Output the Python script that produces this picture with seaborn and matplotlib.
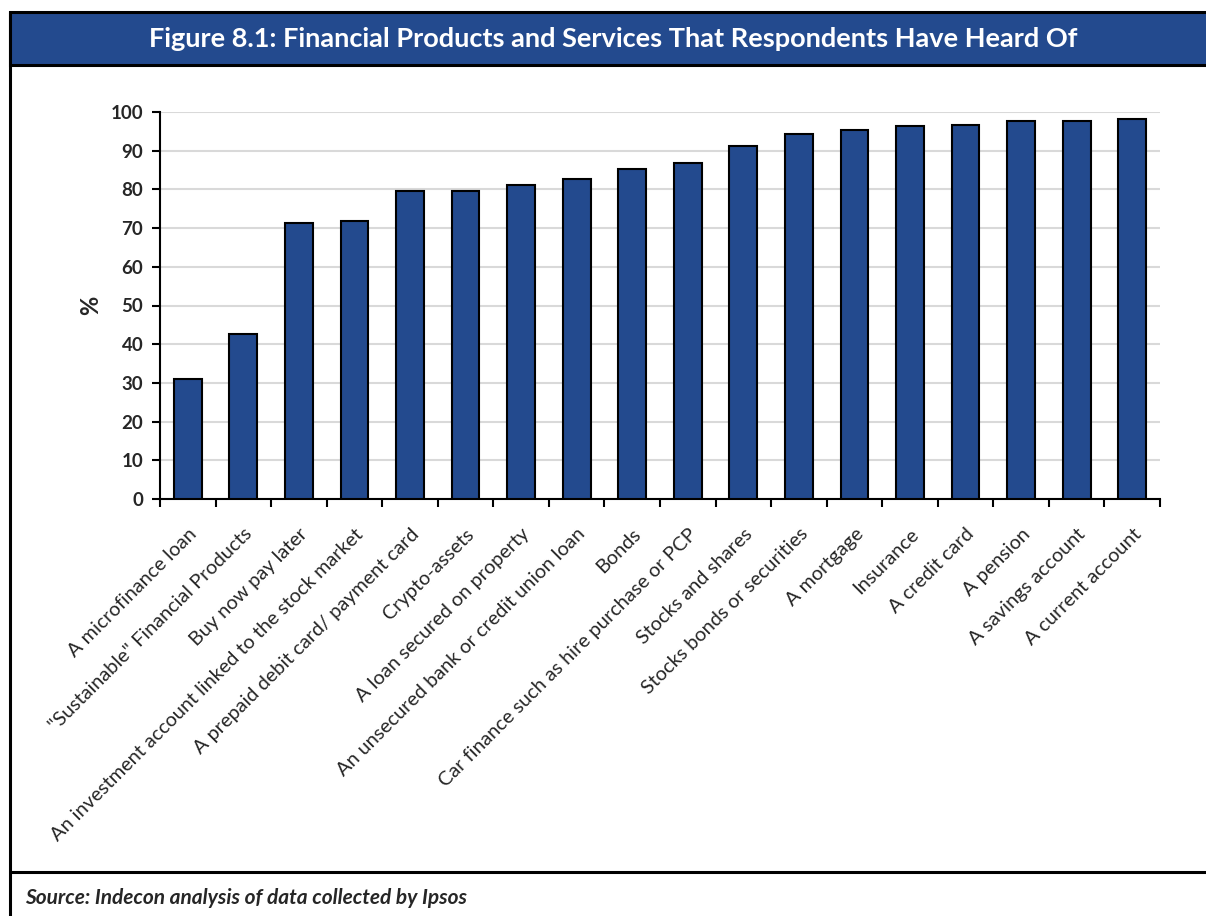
import matplotlib
matplotlib.use("Agg")
import matplotlib.pyplot as plt
from matplotlib.patches import Rectangle
from matplotlib.lines import Line2D
import seaborn as sns
import numpy as np

products = [
    "A microfinance loan",
    '"Sustainable" Financial Products',
    "Buy now pay later",
    "An investment account linked to the stock market",
    "A prepaid debit card/ payment card",
    "Crypto-assets",
    "A loan secured on property",
    "An unsecured bank or credit union loan",
    "Bonds",
    "Car finance such as hire purchase or PCP",
    "Stocks and shares",
    "Stocks bonds or securities",
    "A mortgage",
    "Insurance",
    "A credit card",
    "A pension",
    "A savings account",
    "A current account",
]
heard_of_pct = [31.0, 42.7, 71.3, 71.8, 79.5, 79.7, 81.2, 82.8, 85.4, 86.9,
                91.2, 94.4, 95.4, 96.4, 96.7, 97.7, 97.7, 98.3]
y_ticks = [0, 10, 20, 30, 40, 50, 60, 70, 80, 90, 100]

title_text = "Figure 8.1: Financial Products and Services That Respondents Have Heard Of"
source_text = "Source: Indecon analysis of data collected by Ipsos"

BLUE = "#234A8E"
W, H = 1206, 916

sns.set_theme(style="white")
plt.rcParams["font.family"] = ["Lato", "DejaVu Sans"]

fig = plt.figure(figsize=(W / 100, H / 100), dpi=100)
fig.patch.set_facecolor("white")

ax = fig.add_axes([160 / W, 1 - 499 / H, 1000 / W, (499 - 112) / H])

sns.barplot(x=products, y=heard_of_pct, color=BLUE, saturation=1, width=0.5,
            edgecolor="black", linewidth=1.5, ax=ax, zorder=3)

ax.set_xlim(-0.5, len(products) - 0.5)
ax.set_ylim(0, 100)
ax.set_yticks(y_ticks)
ax.set_yticklabels([str(t) for t in y_ticks], fontsize=13.5, fontweight="bold")
ax.yaxis.grid(True, color="#d9d9d9", linewidth=1.5, zorder=0)
ax.set_axisbelow(True)

# category labels sit under each bar; tick marks fall between categories
ax.set_xticks(np.arange(len(products)))
ax.set_xticklabels(products, rotation=45, ha="right", rotation_mode="anchor",
                   fontsize=14.3)
ax.tick_params(axis="x", which="major", length=0, pad=19)
ax.set_xticks(np.arange(-0.5, len(products)), minor=True)
ax.tick_params(axis="x", which="minor", direction="out", length=6, width=1.5,
               color="black", bottom=True)
ax.tick_params(axis="y", direction="out", length=6, width=1.5, color="black",
               left=True, pad=6)

for side in ("top", "right"):
    ax.spines[side].set_visible(False)
for side in ("left", "bottom"):
    ax.spines[side].set_color("black")
    ax.spines[side].set_linewidth(1.5)

ax.set_xlabel("")
ax.set_ylabel("%", fontsize=17, fontweight="bold", labelpad=6)

# title band and surrounding frame
fig.patches.append(Rectangle((10 / W, 1 - 65 / H), 1.0, 53 / H,
                             transform=fig.transFigure, facecolor=BLUE,
                             edgecolor="black", linewidth=2.2, zorder=5))
fig.text(613 / W, 1 - 39 / H, title_text, color="white", fontsize=19.5,
         fontweight="bold", ha="center", va="center", zorder=6)
fig.lines.append(Line2D([10 / W, 10 / W], [0, 1 - 12 / H],
                        transform=fig.transFigure, color="black", linewidth=2.2))
fig.lines.append(Line2D([10 / W, 1], [1 - 872 / H, 1 - 872 / H],
                        transform=fig.transFigure, color="black", linewidth=2.2))
fig.text(25 / W, 1 - 898 / H, source_text, fontsize=15, fontweight="bold",
         fontstyle="italic", ha="left", va="center")

fig.savefig("out.png", dpi=100)
